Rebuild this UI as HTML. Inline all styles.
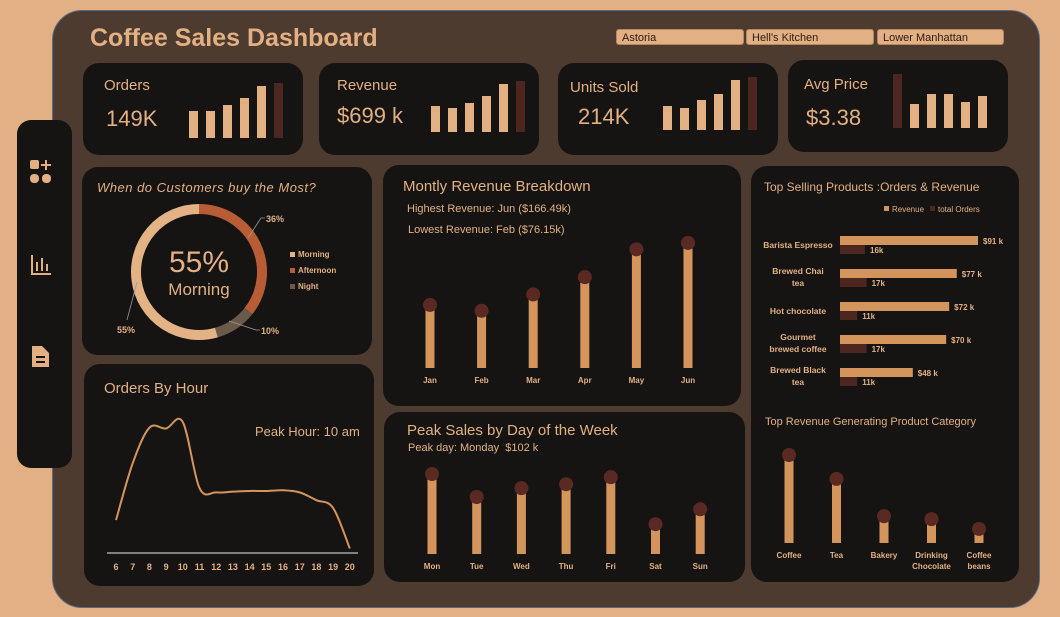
<!DOCTYPE html>
<html><head><meta charset="utf-8">
<style>
body{margin:0;width:1060px;height:617px;background:#e3b085;font-family:"Liberation Sans",sans-serif;position:relative;overflow:hidden}
.abs{position:absolute}
.card{position:absolute;background:#161412;border-radius:16px}
.t{color:#e2b083}
svg{position:absolute;left:0;top:0}
.btn{position:absolute;background:#e2b083;color:#2a1c14;font-size:11px;height:16px;line-height:16px;padding-left:5px;border-radius:3px;border:1px solid #b58860;box-sizing:border-box}
</style></head><body>
<div class="abs" style="left:52px;top:10px;width:988px;height:598px;background:#4d3b2f;border-radius:30px;border:1px solid #5a6a80;box-sizing:border-box"></div>
<div class="abs" style="left:17px;top:120px;width:55px;height:348px;background:#161412;border-radius:14px"></div>
<svg width="1060" height="617">
<g fill="#e2b083">
<rect x="30" y="160" width="9" height="9" rx="2"/><rect x="30" y="174" width="9" height="9" rx="4"/><rect x="42" y="174" width="9" height="9" rx="4"/>
<rect x="45" y="160" width="2" height="10"/><rect x="41" y="164" width="10" height="2"/>
<rect x="31" y="255" width="2" height="20"/><rect x="31" y="273" width="20" height="2"/><rect x="36" y="262" width="2" height="9"/><rect x="41" y="258" width="2" height="13"/><rect x="46" y="264" width="2" height="7"/>
<path d="M32 346 h10 l7 7 v14 h-17z"/>
</g>
<g fill="#161412"><rect x="36" y="356" width="9" height="2"/><rect x="36" y="361" width="9" height="2"/></g>
</svg>
<div class="abs t" style="left:90px;top:24px;font-size:25px;font-weight:bold">Coffee Sales Dashboard</div>
<div class="btn" style="left:616px;top:29px;width:128px">Astoria</div>
<div class="btn" style="left:746px;top:29px;width:128px">Hell's Kitchen</div>
<div class="btn" style="left:877px;top:29px;width:127px">Lower Manhattan</div>

<div class="card" style="left:83px;top:63px;width:220px;height:92px"></div>
<div class="card" style="left:319px;top:63px;width:220px;height:92px"></div>
<div class="card" style="left:558px;top:63px;width:220px;height:92px"></div>
<div class="card" style="left:788px;top:60px;width:220px;height:92px"></div>
<div class="abs t" style="left:104px;top:77px;font-size:15px">Orders</div>
<div class="abs t" style="left:106px;top:106px;font-size:22px">149K</div>
<div class="abs t" style="left:337px;top:77px;font-size:15px">Revenue</div>
<div class="abs t" style="left:337px;top:103px;font-size:22px">$699 k</div>
<div class="abs t" style="left:570px;top:79px;font-size:15px">Units Sold</div>
<div class="abs t" style="left:578px;top:104px;font-size:22px">214K</div>
<div class="abs t" style="left:804px;top:76px;font-size:15px">Avg Price</div>
<div class="abs t" style="left:806px;top:105px;font-size:22px">$3.38</div>

<div class="card" style="left:82px;top:167px;width:290px;height:188px"></div>
<div class="card" style="left:84px;top:364px;width:290px;height:222px"></div>
<div class="card" style="left:383px;top:165px;width:358px;height:241px"></div>
<div class="card" style="left:384px;top:412px;width:361px;height:170px"></div>
<div class="card" style="left:751px;top:166px;width:268px;height:416px"></div>

<div class="abs t" style="left:97px;top:180px;font-size:13px;font-style:italic;letter-spacing:0.5px">When do Customers buy the Most?</div>
<div class="abs t" style="left:149px;top:246px;width:100px;text-align:center;font-size:30px">55%</div>
<div class="abs t" style="left:149px;top:280px;width:100px;text-align:center;font-size:17px">Morning</div>
<div class="abs t" style="left:104px;top:380px;font-size:15px">Orders By Hour</div>
<div class="abs t" style="left:255px;top:424px;font-size:13px">Peak Hour: 10 am</div>
<div class="abs t" style="left:403px;top:178px;font-size:15px">Montly Revenue Breakdown</div>
<div class="abs t" style="left:407px;top:203px;font-size:11px">Highest Revenue: Jun ($166.49k)</div>
<div class="abs t" style="left:408px;top:224px;font-size:11px">Lowest Revenue: Feb ($76.15k)</div>
<div class="abs t" style="left:407px;top:422px;font-size:15px">Peak Sales by Day of the Week</div>
<div class="abs t" style="left:408px;top:442px;font-size:11px">Peak day: Monday &nbsp;$102 k</div>
<div class="abs t" style="left:764px;top:180px;font-size:12px">Top Selling Products :Orders &amp; Revenue</div>
<div class="abs t" style="left:765px;top:416px;font-size:11px">Top Revenue Generating Product Category</div>

<svg id="charts" width="1060" height="617"></svg>
<script>
const ordersKpi=[27,27,33,40,52,55];
const revenueKpi=[26,24,29,36,48,51];
const unitsKpi=[24,22,30,36,50,53];
const avgKpi=[54,24,34,34,26,32];
const donutLabels=["Afternoon","Night","Morning"];
const donutValues=[36,10,55];
const months=["Jan","Feb","Mar","Apr","May","Jun"];
const monthRevenue=[84,76.15,98,121,158,166.49];
const days=["Mon","Tue","Wed","Thu","Fri","Sat","Sun"];
const dayRevenue=[102,72.7,84,89,98,38,57];
const hours=[6,7,8,9,10,11,12,13,14,15,16,17,18,19,20];
const hourOrders=[4.5,12.5,17.5,17.4,18.3,9.0,8.4,8.5,8.6,8.6,8.7,8.4,7.3,6.2,0.5];
const products=["Barista Espresso","Brewed Chai|tea","Hot chocolate","Gourmet|brewed coffee","Brewed Black|tea"];
const productRevenue=[91,77,72,70,48];
const productOrders=[16,17,11,17,11];
const categories=["Coffee","Tea","Bakery","Drinking|Chocolate","Coffee|beans"];
const categoryRevenue=[269,196,82,73,43];

const S=document.getElementById('charts');const NS='http://www.w3.org/2000/svg';
function mk(tag,a,name){const e=document.createElementNS(NS,tag);for(const k in a)e.setAttribute(k,a[k]);


S.appendChild(e);return e;}
function txt(x,y,s,size,anchor,name,w){const e=mk('text',{x:x,y:y,fill:'#e2b083','font-size':size,'text-anchor':anchor||'middle','font-weight':w||'bold','font-family':'Liberation Sans, sans-serif'},name);e.textContent=s;return e;}
const LIGHT='#d4955c',DARK='#4e2620',DOT='#5a2a22';

function kpi(vals,x0,bottom,darkIdx,name){vals.forEach((v,i)=>{mk('rect',{x:x0+i*17,y:bottom-v,width:9,height:v,fill:i===darkIdx?DARK:'#e2b083'},name+'-bar-'+i);});}
kpi(ordersKpi,189,138,5,'orders-kpi');kpi(revenueKpi,431,132,5,'revenue-kpi');kpi(unitsKpi,663,130,5,'units-kpi');kpi(avgKpi,893,128,0,'avg-kpi');

(function(){const cx=199,cy=272,r=63,sw=10;const cols=['#b85c35','#6b5a4a','#e4b385'];const tot=donutValues.reduce((a,b)=>a+b,0);let a0=-Math.PI/2;
donutValues.forEach((v,i)=>{const a1=a0+v/tot*2*Math.PI;const x0=cx+r*Math.cos(a0),y0=cy+r*Math.sin(a0),x1=cx+r*Math.cos(a1),y1=cy+r*Math.sin(a1);
mk('path',{d:`M${x0} ${y0} A${r} ${r} 0 ${a1-a0>Math.PI?1:0} 1 ${x1} ${y1}`,fill:'none',stroke:cols[i],'stroke-width':sw},'donut-slice-'+donutLabels[i].toLowerCase());a0=a1;});
mk('polyline',{points:'248,238 261,218 265,218',fill:'none',stroke:'#999','stroke-width':0.8},'leader-afternoon');
mk('polyline',{points:'229,321 256,330 260,330',fill:'none',stroke:'#999','stroke-width':0.8},'leader-night');
mk('line',{x1:137,y1:282,x2:127,y2:320,stroke:'#999','stroke-width':0.8},'leader-morning');
txt(275,222,donutValues[0]+'%',9,'middle','label-afternoon');txt(270,334,donutValues[1]+'%',9,'middle','label-night');txt(126,333,donutValues[2]+'%',9,'middle','label-morning');
[['Morning','#e4b385',257],['Afternoon','#b85c35',273],['Night','#6b5a4a',289]].forEach(d=>{mk('rect',{x:290,y:d[2]-5,width:5,height:5,fill:d[1]},'legend-swatch-'+d[0].toLowerCase());txt(298,d[2],d[0],8,'start','legend-entry-'+d[0].toLowerCase());});})();

(function(){const x=h=>116+(h-6)*16.7;const y=v=>552-v*7.1;
mk('line',{x1:107,y1:553,x2:358,y2:553,stroke:'#eee','stroke-width':1},'hour-x-axis');
const p=hours.map((h,i)=>[x(h),y(hourOrders[i])]);let d=`M${p[0][0]} ${p[0][1]}`;
for(let i=0;i<p.length-1;i++){const p0=p[Math.max(0,i-1)],p1=p[i],p2=p[i+1],p3=p[Math.min(p.length-1,i+2)];
d+=` C${p1[0]+(p2[0]-p0[0])/6} ${p1[1]+(p2[1]-p0[1])/6} ${p2[0]-(p3[0]-p1[0])/6} ${p2[1]-(p3[1]-p1[1])/6} ${p2[0]} ${p2[1]}`;}
mk('path',{d:d,fill:'none',stroke:LIGHT,'stroke-width':2},'hour-line');
hours.forEach(h=>txt(x(h),570,String(h),9,'middle','hour-tick-'+h));})();

function lollipop(cats,vals,x0,dx,base,scale,name,labelY,size){cats.forEach((c,i)=>{const x=x0+i*dx,h=vals[i]*scale;
mk('rect',{x:x-4.5,y:base-h,width:9,height:h,fill:LIGHT},name+'-bar-'+i);
mk('circle',{cx:x,cy:base-h,r:7,fill:DOT},name+'-dot-'+i);
c.split('|').forEach((s,j)=>txt(x,labelY+j*11,s,size,'middle',name+'-label-'+i));});}
lollipop(months,monthRevenue,430,51.6,368,0.751,'month',383,8);
lollipop(days,dayRevenue,432,44.7,554,0.784,'day',569,8);
lollipop(categories,categoryRevenue,789,47.5,543,0.327,'category',558,8);

(function(){const x0=840,sc=138/91,so=25/16;
mk('rect',{x:884,y:206,width:5,height:5,fill:LIGHT},'legend-revenue-swatch');txt(892,212,'Revenue',8,'start','legend-revenue','normal');
mk('rect',{x:930,y:206,width:5,height:5,fill:DARK},'legend-orders-swatch');txt(938,212,'total Orders',8,'start','legend-orders','normal');
products.forEach((p,i)=>{const y=236+i*33;const rw=productRevenue[i]*sc,ow=productOrders[i]*so;
mk('rect',{x:x0,y:y,width:rw,height:9,fill:LIGHT},'product-revenue-bar-'+i);
mk('rect',{x:x0,y:y+9,width:ow,height:9,fill:DARK},'product-orders-bar-'+i);
txt(x0+rw+5,y+8,'$'+productRevenue[i]+' k',8,'start','product-revenue-label-'+i);
txt(x0+ow+5,y+17,productOrders[i]+'k',8,'start','product-orders-label-'+i);
const ls=p.split('|');ls.forEach((s,j)=>txt(798,y+(ls.length===1?12:5)+j*12,s,8.5,'middle','product-name-'+i));});})();
</script>
</body></html>
